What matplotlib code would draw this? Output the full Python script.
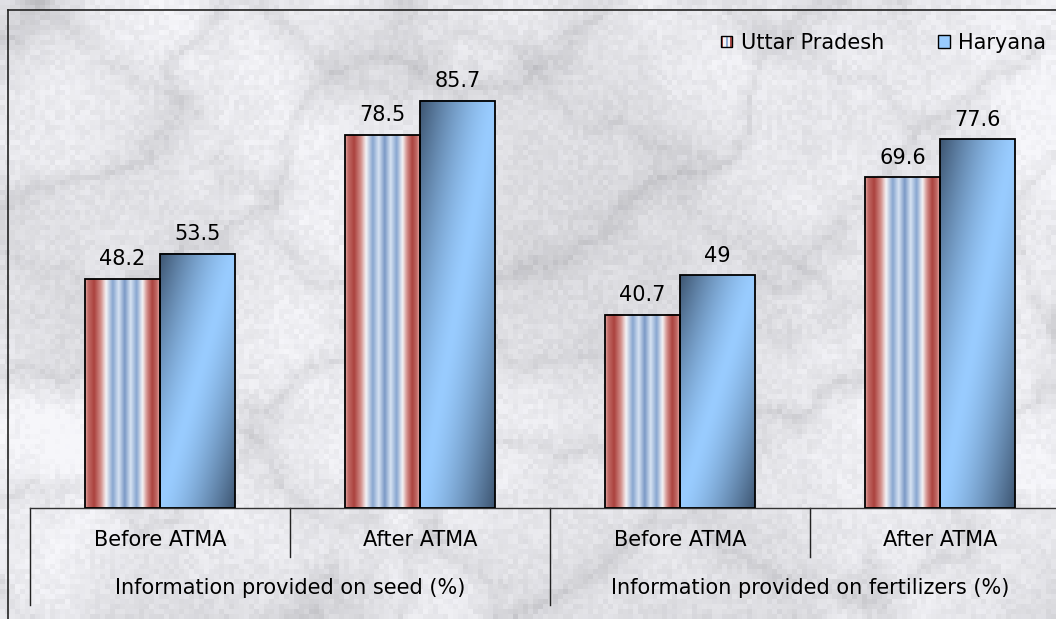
import numpy as np
import matplotlib.pyplot as plt
from matplotlib.colors import LinearSegmentedColormap, to_rgb
from matplotlib.legend_handler import HandlerBase
from matplotlib.patches import Rectangle, Patch
from matplotlib.lines import Line2D

plt.rcParams['font.family'] = ['DejaVu Sans']

# data
groups = ["Information provided on seed (%)", "Information provided on fertilizers (%)"]
stages = ["Before ATMA", "After ATMA", "Before ATMA", "After ATMA"]
series = ["Uttar Pradesh", "Haryana"]
uttar_pradesh = [48.2, 78.5, 40.7, 69.6]
haryana = [53.5, 85.7, 49, 77.6]

W, H = 1056, 619
FS = 15
fig = plt.figure(figsize=(W / 100, H / 100), dpi=100)

# ---- marble background ----
bg = fig.add_axes([0, 0, 1, 1])
bg.axis('off')
rng = np.random.default_rng(11)


def upsample(a, h, w):
    ys = np.linspace(0, a.shape[0] - 1, h)
    xs = np.linspace(0, a.shape[1] - 1, w)
    rows = np.array([np.interp(xs, np.arange(a.shape[1]), r) for r in a])
    return np.array([np.interp(ys, np.arange(a.shape[0]), c) for c in rows.T]).T


def fractal(h, w, scales):
    out = np.zeros((h, w))
    tot = 0
    for s in scales:
        g = rng.random((max(2, h // s), max(2, w // s)))
        out += upsample(g, h, w) * s
        tot += s
    return out / tot


gh, gw = H // 5 + 1, W // 5 + 1
noise = fractal(gh, gw, (2, 3, 6, 12, 24))
fine = rng.random((gh, gw))
turb = fractal(gh, gw, (3, 6, 12, 24, 48))
yy, xx = np.mgrid[0:gh, 0:gw]
v1 = np.sin(xx * 0.06 + yy * 0.09 + turb * 10)
v2 = np.sin(xx * 0.045 - yy * 0.05 + turb * 8 + 1.3)
vein = 0.6 * np.exp(-np.abs(v1) / 0.25) + 0.4 * np.exp(-np.abs(v2) / 0.2)
marble = 0.915 + 0.22 * (noise - 0.5) + 0.05 * (fine - 0.5) - 0.13 * vein
marble = np.clip(marble, 0.66, 0.97)
rgb = np.dstack([marble - 0.005, marble - 0.005, marble + 0.012]).clip(0, 1)
bg.imshow(rgb, extent=[0, W, H, 0], aspect='auto', interpolation='nearest')
bg.set_xlim(0, W)
bg.set_ylim(H, 0)
bg.plot([8, 8], [H, 10], color='#222222', lw=1.2)
bg.plot([8, W], [10, 10], color='#222222', lw=1.2)

# ---- plot area ----
base_px, top_px, left_px, cat_px = 508, 33, 30, 260
ax = fig.add_axes([left_px / W, (H - base_px) / H, (W - left_px) / W, (base_px - top_px) / H])
ax.patch.set_alpha(0)
for side in ('top', 'right', 'left'):
    ax.spines[side].set_visible(False)
ax.spines['bottom'].set_color('#333333')
ax.spines['bottom'].set_linewidth(1.0)
ax.set_xticks([])
ax.set_yticks([])

stripe_cmap = LinearSegmentedColormap.from_list('up', [
    (0.00, '#e3a5a2'), (0.04, '#c06a66'), (0.12, '#ab423e'), (0.21, '#d38f8b'),
    (0.28, '#f5f3f5'), (0.37, '#88a6d0'), (0.45, '#d6e2f2'), (0.53, '#7b99c6'),
    (0.61, '#d6e2f2'), (0.69, '#88a6d0'), (0.77, '#f5f3f5'), (0.83, '#d38f8b'),
    (0.90, '#ab423e'), (0.96, '#c06a66'), (1.00, '#e3a5a2')])
stripes = np.linspace(0, 1, 200)[None, :]

dark = np.array(to_rgb('#3d5571'))
light = np.array(to_rgb('#99ccff'))
gx = np.linspace(0, 1, 80)[None, :]
gs = np.linspace(0, 1, 300)[:, None]
d = np.clip(np.abs(gx + gs - 1.0), 0, 1) ** 1.4
blue_grad = light + (dark - light) * d[..., None]

x = np.arange(len(stages))
bw = 0.288
for xi, v in zip(x - bw / 2, uttar_pradesh):
    ax.imshow(stripes, cmap=stripe_cmap, extent=[xi - bw / 2, xi + bw / 2, 0, v],
              aspect='auto', zorder=2, interpolation='bilinear')
    ax.bar(xi, v, bw, facecolor='none', edgecolor='black', lw=1.3, zorder=3)
    ax.annotate(f"{v:g}", (xi, v), xytext=(0, 7), textcoords='offset points',
                ha='center', va='bottom', fontsize=FS)
for xi, v in zip(x + bw / 2, haryana):
    ax.imshow(blue_grad, extent=[xi - bw / 2, xi + bw / 2, 0, v],
              aspect='auto', zorder=2, interpolation='bilinear')
    ax.bar(xi, v, bw, facecolor='none', edgecolor='black', lw=1.3, zorder=3)
    ax.annotate(f"{v:g}", (xi, v), xytext=(0, 7), textcoords='offset points',
                ha='center', va='bottom', fontsize=FS)

ax.set_ylim(0, 100)
ax.set_xlim(-0.5, -0.5 + (W - left_px) / cat_px)

# multi-level category axis
ah = base_px - top_px
xt = ax.get_xaxis_transform()
for i, lab in enumerate(stages):
    ax.text(i, -(540 - base_px) / ah, lab, transform=xt, ha='center', va='center', fontsize=FS)
for j, lab in enumerate(groups):
    ax.text(2 * j + 0.5, -(588 - base_px) / ah, lab, transform=xt, ha='center', va='center', fontsize=FS)
for xs in (0.5, 2.5):
    ax.add_line(Line2D([xs, xs], [0, -(557 - base_px) / ah], transform=xt,
                       color='#222222', lw=1.0, clip_on=False))
for xs in (-0.5, 1.5, 3.5):
    ax.add_line(Line2D([xs, xs], [0, -(605 - base_px) / ah], transform=xt,
                       color='#222222', lw=1.0, clip_on=False))


# legend
class StripeHandler(HandlerBase):
    def create_artists(self, legend, orig_handle, xdescent, ydescent,
                       width, height, fontsize, trans):
        size = min(width, height)
        x0 = -xdescent + (width - size) / 2
        y0 = -ydescent + (height - size) / 2
        arts = []
        cols = ['#b04a46', '#f5f3f5', '#90acd4', '#f5f3f5', '#b04a46']
        for k, c in enumerate(cols):
            arts.append(Rectangle((x0 + k * size / 5, y0), size / 5, size,
                                  facecolor=c, edgecolor='none', transform=trans))
        arts.append(Rectangle((x0, y0), size, size, facecolor='none',
                              edgecolor='black', lw=1.0, transform=trans))
        return arts


up_handle = Patch(facecolor='#d0b0b0', edgecolor='black', label=series[0])
har_handle = Patch(facecolor='#99ccff', edgecolor='black', lw=1.0, label=series[1])
fig.legend(handles=[up_handle, har_handle], handler_map={up_handle: StripeHandler()},
           loc='center right', bbox_to_anchor=(1046 / W, 1 - 43 / H), ncol=2,
           frameon=False, fontsize=FS, handlelength=0.55, handleheight=0.55,
           handletextpad=0.4, columnspacing=2.6, borderpad=0, borderaxespad=0)

fig.savefig('out.png', dpi=100)
